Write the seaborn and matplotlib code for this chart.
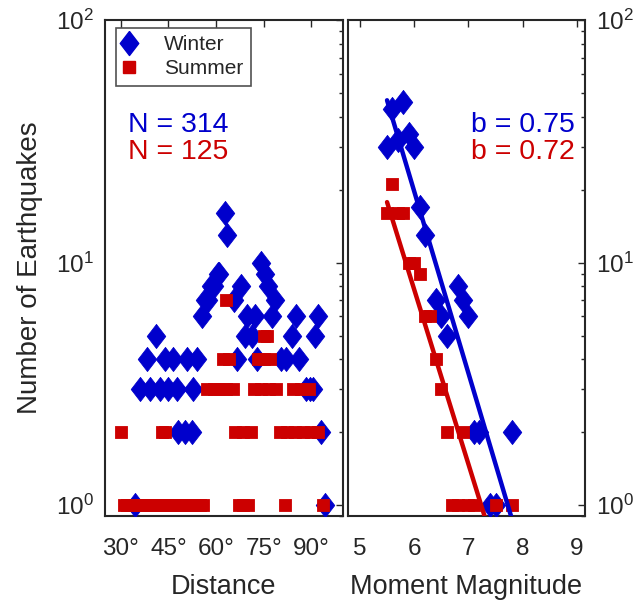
import numpy as np
import pandas as pd
import matplotlib
matplotlib.use("Agg")
import matplotlib.pyplot as plt
from matplotlib.lines import Line2D
from matplotlib.ticker import LogLocator, LogFormatterSciNotation, FixedLocator, NullFormatter
import seaborn as sns

sns.set_style("white")
plt.rcParams["font.family"] = ["Liberation Sans", "DejaVu Sans"]
plt.rcParams["mathtext.fontset"] = "custom"
plt.rcParams["mathtext.rm"] = "Liberation Sans"
plt.rcParams["mathtext.it"] = "Liberation Sans:italic"

# ---- data: earthquake counts vs. epicentral distance (degrees) ----
winter_dist = [34.5, 36.1, 38.2, 39.2, 41.0, 42.4, 43.9, 45.0, 46.5, 47.6,
               48.1, 50.2, 50.8, 52.3, 52.8, 53.9, 55.5, 56.5, 57.5, 58.5,
               59.5, 60.5, 61.0, 62.8, 63.3, 65.5, 66.5, 68.0, 69.2, 69.8,
               71.2, 72.3, 73.0, 74.1, 75.4, 76.4, 77.5, 78.5, 80.6, 82.0,
               83.8, 85.1, 86.2, 88.3, 89.5, 90.6, 91.1, 92.1, 93.2, 94.2]
winter_dist_n = [1, 3, 4, 3, 5, 3, 4, 3, 4, 3,
                 2, 2, 4, 2, 3, 4, 6, 7, 7, 8,
                 8, 9, 9, 16, 13, 7, 4, 8, 5, 6,
                 5, 6, 4, 10, 9, 8, 6, 7, 4, 4,
                 5, 6, 4, 3, 3, 3, 5, 6, 2, 1]

summer_dist = [31, 32, 33, 34, 35, 36, 37, 38, 40, 41, 42, 43, 44, 45, 46,
               47, 48, 50, 51, 52, 53, 55, 56, 67.1, 68.6, 70.2, 81.6, 93.6,
               30.1, 43.0, 44.0, 66.1, 68.6, 71.0, 80.0, 82.4, 84.9, 87.3,
               89.8, 92.2,
               57.2, 59.2, 61.2, 63.2, 65.2, 72.0, 74.3, 76.6, 79.0, 84.2,
               86.7, 89.3,
               62.2, 64.0, 73.2, 75.1, 77.0,
               75.0, 76.1,
               63.1]
summer_dist_n = [1] * 28 + [2] * 12 + [3] * 12 + [4] * 5 + [5] * 2 + [7]

# ---- data: earthquake counts vs. moment magnitude ----
winter_mag = [5.5, 5.6, 5.7, 5.8, 5.9, 6.0, 6.1, 6.2, 6.4, 6.5,
              6.6, 6.8, 6.9, 7.0, 7.1, 7.2, 7.4, 7.5, 7.8]
winter_mag_n = [30, 43, 32, 46, 34, 30, 17, 13, 7, 6,
                5, 8, 7, 6, 2, 2, 1, 1, 2]
summer_mag = [5.5, 5.6, 5.7, 5.8, 5.9, 6.0, 6.1, 6.2, 6.3, 6.4,
              6.5, 6.6, 6.7, 6.8, 6.9, 7.0, 7.1, 7.5, 7.8]
summer_mag_n = [16, 21, 16, 16, 10, 10, 9, 6, 6, 4,
                3, 2, 1, 1, 2, 1, 1, 1, 1]

# Gutenberg-Richter fits: log10 N = a - b M
seasons = ["Winter", "Summer"]
totals = [314, 125]
b_values = [0.75, 0.72]
a_values = [5.794, 5.209]
fit_range = [5.5, 8.2]

dist_ticks = [30, 45, 60, 75, 90]
dist_tick_labels = ["30°", "45°", "60°", "75°", "90°"]
mag_ticks = [5, 6, 7, 8, 9]

colors = {"Winter": "#0000cc", "Summer": "#cc0000"}
diamond = [(0, 1), (0.77, 0), (0, -1), (-0.77, 0), (0, 1)]
markers = {"Winter": diamond, "Summer": "s"}
sizes = {"Winter": 300, "Summer": 84}

dist_df = pd.concat([
    pd.DataFrame({"x": winter_dist, "n": winter_dist_n, "season": "Winter"}),
    pd.DataFrame({"x": summer_dist, "n": summer_dist_n, "season": "Summer"}),
])
mag_df = pd.concat([
    pd.DataFrame({"x": winter_mag, "n": winter_mag_n, "season": "Winter"}),
    pd.DataFrame({"x": summer_mag, "n": summer_mag_n, "season": "Summer"}),
])

W, H = 644, 602
fig = plt.figure(figsize=(W / 100, H / 100), dpi=100)
top_px, bot_px = 20, 516.1
ax1 = fig.add_axes([105 / W, 1 - bot_px / H, (343 - 105) / W, (bot_px - top_px) / H])
ax2 = fig.add_axes([348 / W, 1 - bot_px / H, (585 - 348) / W, (bot_px - top_px) / H])

ink = "#262626"
for ax, df in ((ax1, dist_df), (ax2, mag_df)):
    for s in seasons:
        sub = df[df["season"] == s]
        sns.scatterplot(data=sub, x="x", y="n", ax=ax, marker=markers[s],
                        s=sizes[s], color=colors[s], edgecolor=colors[s],
                        linewidth=0.6, label=s, legend=False, zorder=3)

# fitted lines
m = np.array(fit_range)
for s, a, b in zip(seasons, a_values, b_values):
    fit = pd.DataFrame({"x": m, "n": 10 ** (a - b * m)})
    sns.lineplot(data=fit, x="x", y="n", ax=ax2, color=colors[s], lw=3.2,
                 zorder=4, legend=False)

for ax in (ax1, ax2):
    ax.set_yscale("log")
    ax.set_ylim(0.9, 100)
    ax.set_xlabel("")
    ax.set_ylabel("")
    ax.yaxis.set_major_locator(LogLocator(base=10, numticks=10))
    ax.yaxis.set_minor_locator(LogLocator(base=10, subs=np.arange(2, 10), numticks=10))
    ax.yaxis.set_minor_formatter(NullFormatter())
    ax.yaxis.set_major_formatter(LogFormatterSciNotation())
    ax.tick_params(which="both", direction="in", top=True, right=True,
                   color=ink, labelcolor=ink, labelsize=17.5, width=1.0)
    ax.tick_params(which="major", length=5)
    ax.tick_params(which="minor", length=3)
    ax.tick_params(axis="x", pad=15.5)
    ax.tick_params(axis="y", pad=8)
    for sp in ax.spines.values():
        sp.set_visible(True)
        sp.set_color(ink)
        sp.set_linewidth(1.5)

ax1.set_xlim(25, 100)
ax1.xaxis.set_major_locator(FixedLocator(dist_ticks))
ax1.set_xticklabels(dist_tick_labels)
ax1.tick_params(axis="y", labelleft=True, labelright=False)

ax2.set_xlim(4.78, 9.15)
ax2.xaxis.set_major_locator(FixedLocator(mag_ticks))
ax2.set_xticklabels([str(t) for t in mag_ticks])
ax2.tick_params(axis="y", labelleft=False, labelright=True)

ax1.set_xlabel("Distance", fontsize=19.5, color=ink, labelpad=10)
ax2.set_xlabel("Moment Magnitude", fontsize=19.5, color=ink, labelpad=10)
ax1.set_ylabel("Number of Earthquakes", fontsize=20, color=ink, labelpad=9)

# legend
handles = [Line2D([], [], ls="none", marker=markers[s], color=colors[s],
                  markersize=(17.3 if s == "Winter" else 9.2)) for s in seasons]
leg = ax1.legend(handles, seasons, loc="upper left",
                 bbox_to_anchor=(0.046, 0.984), borderaxespad=0,
                 frameon=True, fancybox=False, fontsize=15,
                 handlelength=0.6, handletextpad=1.36, borderpad=0.35,
                 labelspacing=0.25)
leg.get_frame().set_edgecolor(ink)
leg.get_frame().set_linewidth(1.2)

# totals and b-values
for i, (s, n) in enumerate(zip(seasons, totals)):
    ax1.text(0.097, 0.7745 - i * 0.0538, f"N = {n}", color=colors[s], fontsize=20.5,
             transform=ax1.transAxes, ha="left", va="baseline")
for i, (s, b) in enumerate(zip(seasons, b_values)):
    ax2.text(0.958, 0.7745 - i * 0.0538, f"b = {b:.2f}", color=colors[s], fontsize=20.5,
             transform=ax2.transAxes, ha="right", va="baseline")

fig.savefig("out.png", dpi=100)
